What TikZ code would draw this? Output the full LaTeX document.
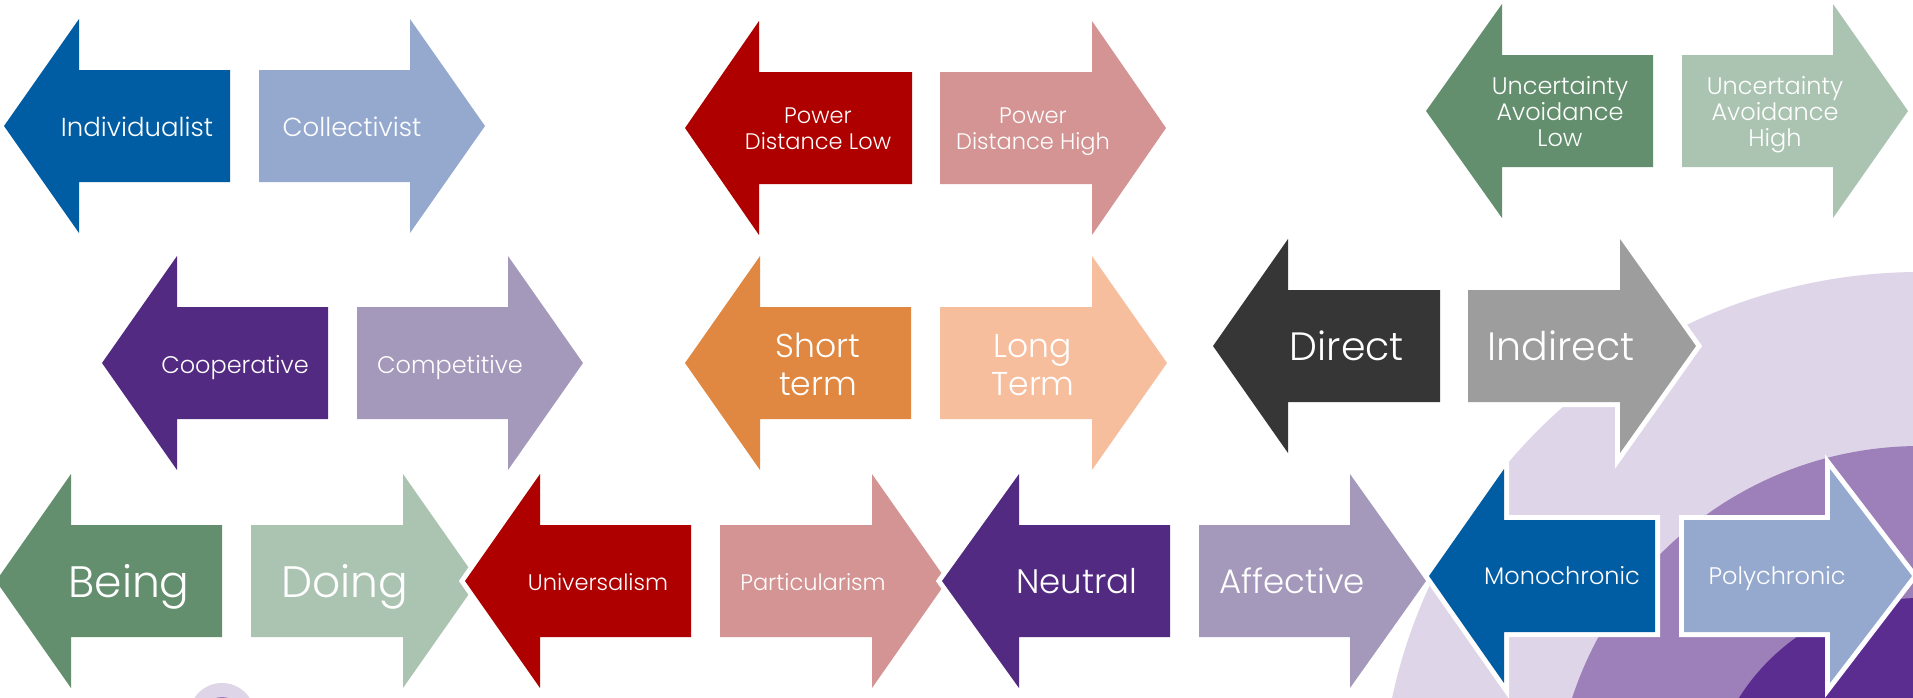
\documentclass[tikz,border=0pt]{standalone}
\usepackage{fontspec}
\IfFontExistsTF{Poppins Light}{\newfontfamily\cg{Poppins Light}}{\newfontfamily\cg{Poppins}}
\definecolor{cBlue}{HTML}{005CA3}
\definecolor{cBlueL}{HTML}{95A9CF}
\definecolor{cRed}{HTML}{AF0000}
\definecolor{cRedL}{HTML}{D59494}
\definecolor{cGreen}{HTML}{638F6E}
\definecolor{cGreenL}{HTML}{ABC4B2}
\definecolor{cPurp}{HTML}{532A81}
\definecolor{cPurpL}{HTML}{A499BB}
\definecolor{cOrange}{HTML}{E08841}
\definecolor{cOrangeL}{HTML}{F7BE9E}
\definecolor{cDark}{HTML}{363636}
\definecolor{cGrey}{HTML}{9D9D9D}
\definecolor{bgLav}{HTML}{DED5E8}
\definecolor{bgMid}{HTML}{9D7FB9}
\definecolor{bgDark}{HTML}{5C2D91}
% left arrow: tip x, head base x, right x, centre y, colour
\newcommand\LArr[5]{\path[arrowbox,fill=#5] (#1,#4) -- (#2,#4-107) -- (#2,#4-56) -- (#3,#4-56) -- (#3,#4+56) -- (#2,#4+56) -- (#2,#4+107) -- cycle;}
% right arrow: left x, head base x, tip x, centre y, colour
\newcommand\RArr[5]{\path[arrowbox,fill=#5] (#1,#4-56) -- (#2,#4-56) -- (#2,#4-107) -- (#3,#4) -- (#2,#4+107) -- (#2,#4+56) -- (#1,#4+56) -- cycle;}
\begin{document}
\begin{tikzpicture}[x=1pt,y=-1pt,
  arrowbox/.style={preaction={draw=white,line width=10pt}},
  lbl/.style={text=white,inner sep=0pt,anchor=base},
  fA/.style={font=\cg\fontsize{26}{30}\selectfont},
  fPD/.style={font=\cg\fontsize{22.5}{26}\selectfont},
  fUA/.style={font=\cg\fontsize{24}{27}\selectfont},
  fCo/.style={font=\cg\fontsize{24}{28}\selectfont},
  fST/.style={font=\cg\fontsize{33}{38}\selectfont},
  fDi/.style={font=\cg\fontsize{39.5}{44}\selectfont},
  fBe/.style={font=\cg\fontsize{44}{50}\selectfont},
  fUn/.style={font=\cg\fontsize{22.5}{27}\selectfont},
  fNe/.style={font=\cg\fontsize{34}{40}\selectfont},
  fMo/.style={font=\cg\fontsize{24}{28}\selectfont}]
\useasboundingbox (0,0) rectangle (1913,697);
\clip (0,0) rectangle (1913,697);
\fill[white] (0,0) rectangle (1913,697);
% background rings
\fill[bgLav] (1920,812) circle (540pt);
\fill[bgMid] (1920,812) circle (366pt);
\fill[bgDark] (1920,812) circle (214pt);
\fill[bgLav] (222,716) circle (33pt);
\fill[bgMid] (222,716) circle (19pt);
% row 1
\LArr{4}{79}{230}{126}{cBlue}
\RArr{259}{410}{485}{126}{cBlueL}
\LArr{685}{759}{912}{128}{cRed}
\RArr{940}{1092}{1166}{128}{cRedL}
\LArr{1426}{1502}{1653}{111}{cGreen}
\RArr{1682}{1833}{1908}{111}{cGreenL}
% row 2
\LArr{102}{177}{328}{363}{cPurp}
\RArr{357}{508}{583}{363}{cPurpL}
\LArr{685}{760}{911}{363}{cOrange}
\RArr{940}{1092}{1167}{363}{cOrangeL}
\LArr{1213}{1288}{1440}{346}{cDark}
\RArr{1468}{1620}{1696}{346}{cGrey}
% row 3
\LArr{-4}{71}{222}{581}{cGreen}
\RArr{251}{403}{478}{581}{cGreenL}
\LArr{465}{540}{691}{581}{cRed}
\RArr{720}{872}{947}{581}{cRedL}
\LArr{942}{1019}{1170}{581}{cPurp}
\RArr{1199}{1350}{1426}{581}{cPurpL}
\LArr{1429}{1504}{1655}{576}{cBlue}
\RArr{1684}{1830}{1912}{576}{cBlueL}
% labels
\node[lbl,fA] (tInd) at (137,136) {Individualist};
\node[lbl,fA] (tCol) at (352,136) {Collectivist};
\node[lbl,fPD] (tPDLa) at (818,123) {Power};
\node[lbl,fPD] (tPDLb) at (818,149) {Distance Low};
\node[lbl,fPD] (tPDHa) at (1033,123) {Power};
\node[lbl,fPD] (tPDHb) at (1033,149) {Distance High};
\node[lbl,fUA] (tUALa) at (1560,94) {Uncertainty};
\node[lbl,fUA] (tUALb) at (1560,120) {Avoidance};
\node[lbl,fUA] (tUALc) at (1560,146) {Low};
\node[lbl,fUA] (tUAHa) at (1775,94) {Uncertainty};
\node[lbl,fUA] (tUAHb) at (1775,120) {Avoidance};
\node[lbl,fUA] (tUAHc) at (1775,146) {High};
\node[lbl,fCo] (tCoop) at (235,373) {Cooperative};
\node[lbl,fCo] (tComp) at (450,373) {Competitive};
\node[lbl,fST] (tSTa) at (818,357) {Short};
\node[lbl,fST] (tSTb) at (818,395) {term};
\node[lbl,fST] (tLTa) at (1033,357) {Long};
\node[lbl,fST] (tLTb) at (1033,395) {Term};
\node[lbl,fDi] (tDir) at (1347,360) {Direct};
\node[lbl,fDi] (tInd2) at (1561,360) {Indirect};
\node[lbl,fBe] (tBe) at (129,597) {Being};
\node[lbl,fBe] (tDo) at (345,597) {Doing};
\node[lbl,fUn] (tUn) at (598,590) {Universalism};
\node[lbl,fUn] (tPa) at (813,590) {Particularism};
\node[lbl,fNe] (tNe) at (1077,593) {Neutral};
\node[lbl,fNe] (tAf) at (1292,593) {Affective};
\node[lbl,fMo] (tMo) at (1562,584) {Monochronic};
\node[lbl,fMo] (tPo) at (1777,584) {Polychronic};
\end{tikzpicture}
\end{document}
